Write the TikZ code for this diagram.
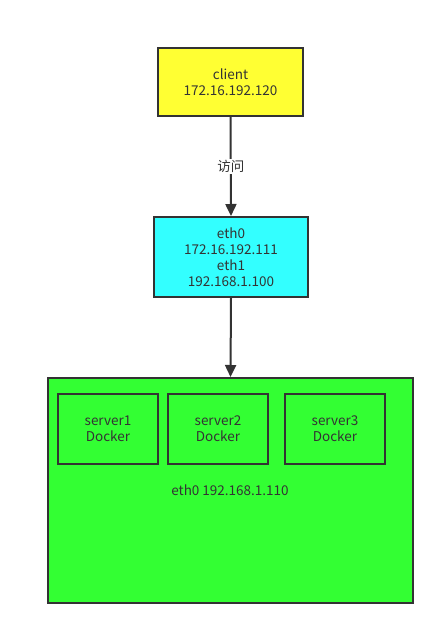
\documentclass[tikz,border=0pt]{standalone}
\usepackage{fontspec}
\setmainfont{Noto Sans CJK SC}
\usetikzlibrary{arrows.meta}
\definecolor{txt}{HTML}{333333}
\definecolor{yel}{HTML}{FFFF33}
\definecolor{cyn}{HTML}{33FFFF}
\definecolor{grn}{HTML}{33FF33}
\tikzset{
  lbltext/.style={text=txt, font=\fontsize{13.5}{16}\selectfont},
  box/.style={draw=txt, line width=2pt, inner sep=0pt, align=center, lbltext},
  conn/.style={draw=txt, line width=2pt, -{Triangle[length=12pt,width=11pt]}},
}
\begin{document}
\begin{tikzpicture}[x=1pt,y=-1pt]
\useasboundingbox (0,0) rectangle (445,635);
\node[box, fill=yel, minimum width=145pt, minimum height=68pt] (client) at (230.5,82) {client\\172.16.192.120};
\node[box, fill=cyn, minimum width=154pt, minimum height=80pt] (gw) at (231,257) {eth0\\172.16.192.111\\eth1\\192.168.1.100};
\node[box, fill=grn, minimum width=365pt, minimum height=225pt] (host) at (230.5,490.5) {};
\node[box, minimum width=100pt, minimum height=70pt] (s1) at (108,429) {server1\\Docker};
\node[box, minimum width=100pt, minimum height=70pt] (s2) at (218,429) {server2\\Docker};
\node[box, minimum width=100pt, minimum height=70pt] (s3) at (335,429) {server3\\Docker};
\node[lbltext] (ip) at (230,490) {eth0 192.168.1.110};
\draw[conn] (client.south) -- node[fill=white, lbltext, inner sep=1pt] (lbl) {访问} (gw.north);
\draw[conn] (gw.south) -- (host.north);
\end{tikzpicture}
\end{document}
